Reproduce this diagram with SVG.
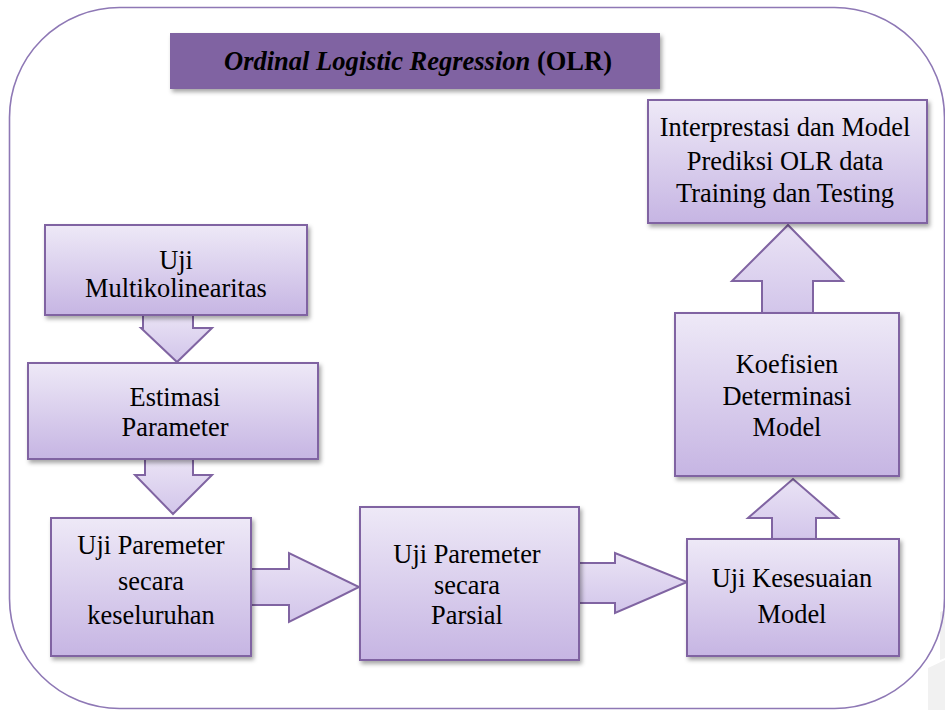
<svg xmlns="http://www.w3.org/2000/svg" width="945" height="710" viewBox="0 0 945 710" font-family="Liberation Serif">
  <defs>
    <linearGradient id="boxFill" x1="0" y1="0" x2="0" y2="1">
      <stop offset="0" stop-color="#EEE9F7"/>
      <stop offset="1" stop-color="#C6B5E3"/>
    </linearGradient>
    <linearGradient id="arrowFill" x1="0" y1="0" x2="0" y2="1">
      <stop offset="0" stop-color="#EAE3F5"/>
      <stop offset="1" stop-color="#D2C5EA"/>
    </linearGradient>
    <filter id="shadow" x="-10%" y="-10%" width="130%" height="140%">
      <feDropShadow dx="2" dy="3" stdDeviation="2" flood-color="#000" flood-opacity="0.35"/>
    </filter>
  </defs>
  <style>
    .box { fill: url(#boxFill); stroke: #8064A2; stroke-width: 2; filter: url(#shadow); }
    .arrow { fill: url(#arrowFill); stroke: #8064A2; stroke-width: 2; stroke-linejoin: miter; }
    text { fill: #000; text-anchor: middle; }
    .lbl { font-size: 26.4px; }
    .title { font-size: 26.5px; font-weight: bold; }
  </style>

  <rect width="945" height="710" fill="#FFFFFF"/>

  <!-- faint background marks, lower right -->
  <g id="backdrop" fill="#F1F1F1">
    <polygon points="928,668 945,660 945,710 928,710"/>
    <polygon points="940,612 945,610 945,658 940,660"/>
  </g>

  <!-- outer frame -->
  <rect id="frame" x="9.5" y="7.5" width="935" height="701" rx="110" ry="110" fill="none" stroke="#8E78B5" stroke-width="1.6"/>

  <!-- heading -->
  <g id="title">
    <rect x="170" y="33" width="490" height="56" fill="#8064A2" filter="url(#shadow)"/>
    <text class="title" x="418" y="70" font-family="Liberation Serif, serif"><tspan font-style="italic">Ordinal Logistic Regression</tspan> (OLR)</text>
  </g>

  <!-- block arrows between steps -->
  <g id="connectors">
    <polygon class="arrow" points="143,314 193,314 193,328 212,328 177,362 141,328 143,328"/>
    <polygon class="arrow" points="145,459 193,459 193,475 212,475 173,514 135,475 145,475"/>
    <polygon class="arrow" points="250,569 289,569 289,553 359,587 289,622 289,605 250,605"/>
    <polygon class="arrow" points="578,563 615,563 615,553 687,582 615,613 615,603 578,603"/>
    <polygon class="arrow" points="772,540 772,518 748,518 793,479 838,518 816,518 816,540"/>
    <polygon class="arrow" points="762,314 762,281 732,281 788,225 843,281 813,281 813,314"/>
  </g>

  <g id="n-multikolinearitas" font-family="Liberation Serif, serif">
    <rect class="box" x="45" y="225" width="262" height="90"/>
    <text class="lbl" x="176" y="269">Uji</text>
    <text class="lbl" x="176" y="297">Multikolinearitas</text>
  </g>

  <g id="n-estimasi" font-family="Liberation Serif, serif">
    <rect class="box" x="28" y="363" width="290" height="96"/>
    <text class="lbl" x="175" y="406">Estimasi</text>
    <text class="lbl" x="175" y="436">Parameter</text>
  </g>

  <g id="n-keseluruhan" font-family="Liberation Serif, serif">
    <rect class="box" x="51" y="518" width="200" height="138"/>
    <text class="lbl" x="151" y="554">Uji Paremeter</text>
    <text class="lbl" x="151" y="590">secara</text>
    <text class="lbl" x="151" y="624">keseluruhan</text>
  </g>

  <g id="n-parsial" font-family="Liberation Serif, serif">
    <rect class="box" x="360" y="507" width="219" height="153"/>
    <text class="lbl" x="467" y="563">Uji Paremeter</text>
    <text class="lbl" x="467" y="594">secara</text>
    <text class="lbl" x="467" y="624">Parsial</text>
  </g>

  <g id="n-kesesuaian" font-family="Liberation Serif, serif">
    <rect class="box" x="687" y="539" width="212" height="117"/>
    <text class="lbl" x="792" y="587">Uji Kesesuaian</text>
    <text class="lbl" x="792" y="623">Model</text>
  </g>

  <g id="n-koefisien" font-family="Liberation Serif, serif">
    <rect class="box" x="675" y="313" width="224" height="163"/>
    <text class="lbl" x="787" y="373">Koefisien</text>
    <text class="lbl" x="787" y="405">Determinasi</text>
    <text class="lbl" x="787" y="436">Model</text>
  </g>

  <g id="n-interprestasi" font-family="Liberation Serif, serif">
    <rect class="box" x="648" y="100" width="279" height="123"/>
    <text class="lbl" x="785" y="136">Interprestasi dan Model</text>
    <text class="lbl" x="785" y="170">Prediksi OLR data</text>
    <text class="lbl" x="785" y="202">Training dan Testing</text>
  </g>
</svg>
